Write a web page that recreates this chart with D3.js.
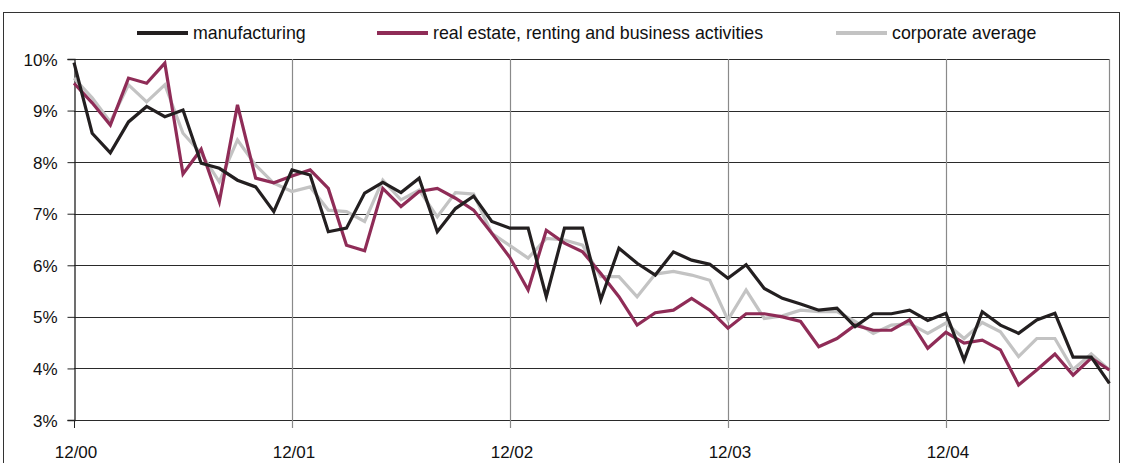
<!DOCTYPE html>
<html>
<head>
<meta charset="utf-8">
<script src="https://cdn.jsdelivr.net/npm/d3@7"></script>
<style>
  body { margin: 0; background: #fff; }
  svg { display: block; font-family: "Liberation Sans", Arial, sans-serif; }
</style>
</head>
<body>
<div id="chart"></div>
<script>
// monthly values, 12/00 .. 09/05 (percent)
const tickLabels = ['12/00', '12/01', '12/02', '12/03', '12/04']
const yTicks = [3, 4, 5, 6, 7, 8, 9, 10]

const manufacturing = [
  9.93, 8.56, 8.18, 8.78, 9.08, 8.88, 9.01, 7.98, 7.88, 7.65, 7.52, 7.04,
  7.85, 7.75, 6.65, 6.72, 7.40, 7.61, 7.41, 7.69, 6.65, 7.10, 7.34, 6.85,
  6.72, 6.72, 5.39, 6.72, 6.72, 5.33, 6.33, 6.04, 5.81, 6.26, 6.10, 6.02,
  5.75, 6.01, 5.55, 5.36, 5.25, 5.13, 5.17, 4.81, 5.06, 5.06, 5.13, 4.93,
  5.07, 4.16, 5.10, 4.84, 4.68, 4.94, 5.07, 4.22, 4.22, 3.71
]
const realEstate = [
  9.53, 9.15, 8.72, 9.63, 9.53, 9.92, 7.77, 8.25, 7.23, 9.11, 7.69, 7.60,
  7.73, 7.85, 7.49, 6.39, 6.28, 7.49, 7.14, 7.43, 7.49, 7.30, 7.07, 6.62,
  6.15, 5.52, 6.68, 6.43, 6.26, 5.84, 5.39, 4.84, 5.08, 5.13, 5.36, 5.13,
  4.78, 5.06, 5.06, 5.00, 4.91, 4.42, 4.58, 4.84, 4.74, 4.74, 4.94, 4.39,
  4.70, 4.49, 4.55, 4.36, 3.68, 3.97, 4.28, 3.87, 4.20, 3.97
]
const corporateAverage = [
  9.63, 9.25, 8.78, 9.50, 9.17, 9.50, 8.56, 8.17, 7.62, 8.43, 7.94, 7.59,
  7.43, 7.52, 7.07, 7.04, 6.85, 7.65, 7.27, 7.46, 6.94, 7.41, 7.38, 6.62,
  6.38, 6.14, 6.52, 6.49, 6.39, 5.78, 5.78, 5.39, 5.83, 5.88, 5.81, 5.71,
  4.94, 5.52, 4.97, 5.02, 5.13, 5.10, 5.10, 4.91, 4.68, 4.84, 4.87, 4.68,
  4.88, 4.58, 4.89, 4.71, 4.23, 4.58, 4.58, 3.98, 4.28, 3.97
]

const series = [
  {name: 'manufacturing', values: manufacturing, color: '#231f20'},
  {name: 'real estate, renting and business activities', values: realEstate, color: '#8f2c57'},
  {name: 'corporate average', values: corporateAverage, color: '#c3c3c3'}
]
// draw order: grey underneath, then red, black on top
const drawOrder = [series[2], series[1], series[0]]

const width = 1124
const height = 463
const margin = {left: 74, right: 14, top: 59, bottom: 43}

const svg = d3.select('#chart')
  .append('svg')
  .attr('width', width)
  .attr('height', height)

// outer frame
svg.append('rect')
  .attr('x', 3.5).attr('y', 12.5)
  .attr('width', 1116).attr('height', 470)
  .attr('fill', 'none')
  .attr('stroke', '#333')
  .attr('stroke-width', 1)

const x = d3.scaleLinear()
  .domain([0, 57])
  .range([margin.left, width - margin.right - 0.6])

const y = d3.scaleLinear()
  .domain([3, 10])
  .range([height - margin.bottom, margin.top])

// horizontal gridlines
svg.append('g')
  .selectAll('line')
  .data(yTicks)
  .join('line')
  .attr('x1', margin.left)
  .attr('x2', x(57))
  .attr('y1', d => Math.round(y(d)) + 0.5)
  .attr('y2', d => Math.round(y(d)) + 0.5)
  .attr('stroke', '#2a2a2a')
  .attr('stroke-width', 1)

// vertical gridlines every 12 months + right border
const vLines = [12, 24, 36, 48, 57]
svg.append('g')
  .selectAll('line')
  .data(vLines)
  .join('line')
  .attr('x1', d => Math.round(x(d)) + 0.5)
  .attr('x2', d => Math.round(x(d)) + 0.5)
  .attr('y1', margin.top)
  .attr('y2', d => d == 57 ? y(3) : y(3) + 8)
  .attr('stroke', '#8a8a8a')
  .attr('stroke-width', 1.2)

// y axis
const yAxis = d3.axisLeft(y)
  .tickValues(yTicks)
  .tickSize(7)
  .tickFormat(d => d + '%')
const gy = svg.append('g')
  .attr('transform', `translate(${margin.left + 0.5},0)`)
  .call(yAxis)
gy.select('.domain').attr('stroke', '#222').attr('stroke-width', 1.3)
gy.selectAll('.tick line').attr('stroke', '#222')
gy.selectAll('.tick text')
  .attr('x', -17)
  .attr('dy', '0.36em')
  .style('font-size', '17px')
  .style('fill', '#111')
  .style('font-family', '"Liberation Sans", Arial, sans-serif')

// x axis labels
const gx = svg.append('g')
gx.selectAll('line')
  .data([0])
  .join('line')
  .attr('x1', x(0) + 0.5).attr('x2', x(0) + 0.5)
  .attr('y1', y(3)).attr('y2', y(3) + 8)
  .attr('stroke', '#222')
gx.selectAll('text')
  .data(tickLabels)
  .join('text')
  .attr('x', (d, i) => x(i * 12) + 2)
  .attr('y', 458)
  .attr('text-anchor', 'middle')
  .style('font-size', '17px')
  .style('fill', '#111')
  .text(d => d)

// lines
const line = d3.line()
  .x((d, i) => x(i))
  .y(d => y(d))

svg.append('g')
  .selectAll('path')
  .data(drawOrder)
  .join('path')
  .attr('d', d => line(d.values))
  .attr('fill', 'none')
  .attr('stroke', d => d.color)
  .attr('stroke-width', 3.2)
  .attr('stroke-linejoin', 'miter')

// legend
const legendPos = [137, 377, 836]
const legend = svg.append('g')
  .selectAll('g')
  .data(series)
  .join('g')
  .attr('transform', (d, i) => `translate(${legendPos[i]},33)`)
legend.append('line')
  .attr('x1', 0).attr('x2', 51)
  .attr('stroke', d => d.color)
  .attr('stroke-width', 4)
legend.append('text')
  .attr('x', 56)
  .attr('dy', '0.35em')
  .style('font-size', '17.8px')
  .style('fill', '#111')
  .text(d => d.name)
</script>
</body>
</html>
